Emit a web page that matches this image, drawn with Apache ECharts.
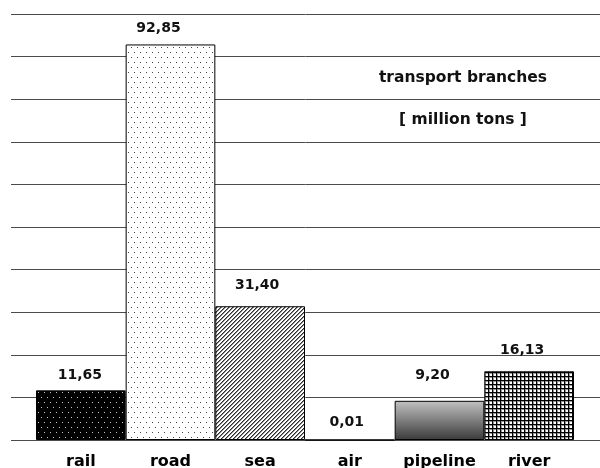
<!DOCTYPE html>
<html>
<head>
<meta charset="utf-8">
<style>
  html, body { margin: 0; padding: 0; background: #fff; }
  #chart { width: 600px; height: 468px; }
</style>
<script src="https://cdn.jsdelivr.net/npm/echarts@6/dist/echarts.min.js"></script>
</head>
<body>
<div id="chart"></div>
<script>
// Freight carried per transport branch, million tons
const categories = ['rail', 'road', 'sea', 'air', 'pipeline', 'river'];
const tonnage = [11.65, 92.85, 31.40, 0.01, 9.20, 16.13];
const captionLines = ['transport branches', '[ million tons ]'];

// --- fill patterns for the bars ---
function makeTile(w, h, draw) {
  const c = document.createElement('canvas');
  c.width = w; c.height = h;
  draw(c.getContext('2d'), w, h);
  return { image: c, repeat: 'repeat' };
}

// black with light staggered dots
const darkDots = makeTile(12, 10, (g, w, h) => {
  g.fillStyle = '#000'; g.fillRect(0, 0, w, h);
  g.fillStyle = '#c8c8c8';
  g.fillRect(2, 2, 1, 1); g.fillRect(8, 2, 1, 1);
  g.fillRect(5, 7, 1, 1); g.fillRect(11, 7, 1, 1);
});
// white with sparse dark dots
const lightDots = makeTile(12, 10, (g, w, h) => {
  g.fillStyle = '#fff'; g.fillRect(0, 0, w, h);
  g.fillStyle = '#444';
  g.fillRect(2, 2, 1, 1); g.fillRect(8, 2, 1, 1);
  g.fillRect(5, 7, 1, 1); g.fillRect(11, 7, 1, 1);
});
// dense forward diagonal hatch
const hatch = makeTile(4, 4, (g, w, h) => {
  g.fillStyle = '#fff'; g.fillRect(0, 0, w, h);
  g.fillStyle = '#2e2e2e';
  for (let i = 0; i < 4; i++) g.fillRect(3 - i, i, 1, 1);
  g.fillStyle = '#8a8a8a';
  for (let i = 0; i < 4; i++) g.fillRect((4 - i) % 4, i, 1, 1);
});
// square cross-hatch
const crossGrid = makeTile(4, 4, (g, w, h) => {
  g.fillStyle = '#fff'; g.fillRect(0, 0, w, h);
  g.fillStyle = '#9a9a9a';
  g.fillRect(0, 1, w, 1);
  g.fillRect(1, 0, 1, h);
  g.fillStyle = '#000';
  g.fillRect(0, 0, w, 1);
  g.fillRect(0, 0, 1, h);
});
// metallic gradient for pipeline
const pipeShade = new echarts.graphic.LinearGradient(0, 0, 0, 1, [
  { offset: 0, color: '#c2c2c2' },
  { offset: 1, color: '#3a3a3a' }
]);

const fills = [darkDots, lightDots, hatch, '#ffffff', pipeShade, crossGrid];
// gap between each bar top and its value label, and sideways nudge
const labelGaps = [8, 9, 14, 10, 18, 14];
const labelShift = [-1, -12, -3, -3, -7, -7];

const fmt = v => v.toFixed(2).replace('.', ',');
const FONT = 'DejaVu Sans';

const chart = echarts.init(document.getElementById('chart'), null, { renderer: 'canvas' });

const option = {
  animation: false,
  backgroundColor: '#ffffff',
  grid: [
    // grid lines span the full width
    { left: 11, right: 0, top: 14, bottom: 28, outerBoundsMode: 'none' },
    // bars sit in a narrower band
    { left: 36, right: 26, top: 14, bottom: 28, outerBoundsMode: 'none' }
  ],
  xAxis: [
    { gridIndex: 0, type: 'value', show: false, min: 0, max: 1 },
    {
      gridIndex: 1, type: 'category', data: categories,
      axisLine: { show: false }, axisTick: { show: false },
      axisLabel: {
        interval: 0, margin: 14, color: '#000', fontFamily: FONT,
        fontWeight: 'bold', fontSize: 16
      }
    }
  ],
  yAxis: [
    {
      gridIndex: 0, type: 'value', min: 0, max: 100, interval: 10,
      axisLine: { show: false }, axisTick: { show: false }, axisLabel: { show: false },
      splitLine: { lineStyle: { color: '#4a4a4a', width: 1 } }
    },
    {
      gridIndex: 1, type: 'value', min: 0, max: 100, interval: 10,
      show: false, splitLine: { show: false }
    }
  ],
  graphic: captionLines.map((t, i) => ({
    type: 'text',
    x: 463, y: 78 + i * 42,
    style: {
      text: t, fill: '#111', font: 'bold 15.5px "' + FONT + '"',
      align: 'center', verticalAlign: 'middle'
    }
  })),
  series: [{
    type: 'bar',
    xAxisIndex: 1, yAxisIndex: 1,
    barWidth: '100%',
    data: tonnage.map((v, i) => ({
      value: v,
      itemStyle: { color: fills[i], borderColor: '#000', borderWidth: 1 },
      label: { distance: labelGaps[i], offset: [labelShift[i], 0] }
    })),
    label: {
      show: true, position: 'top',
      formatter: p => fmt(p.value),
      color: '#111', fontFamily: FONT, fontWeight: 'bold', fontSize: 14
    }
  }]
};

chart.setOption(option);
</script>
</body>
</html>
